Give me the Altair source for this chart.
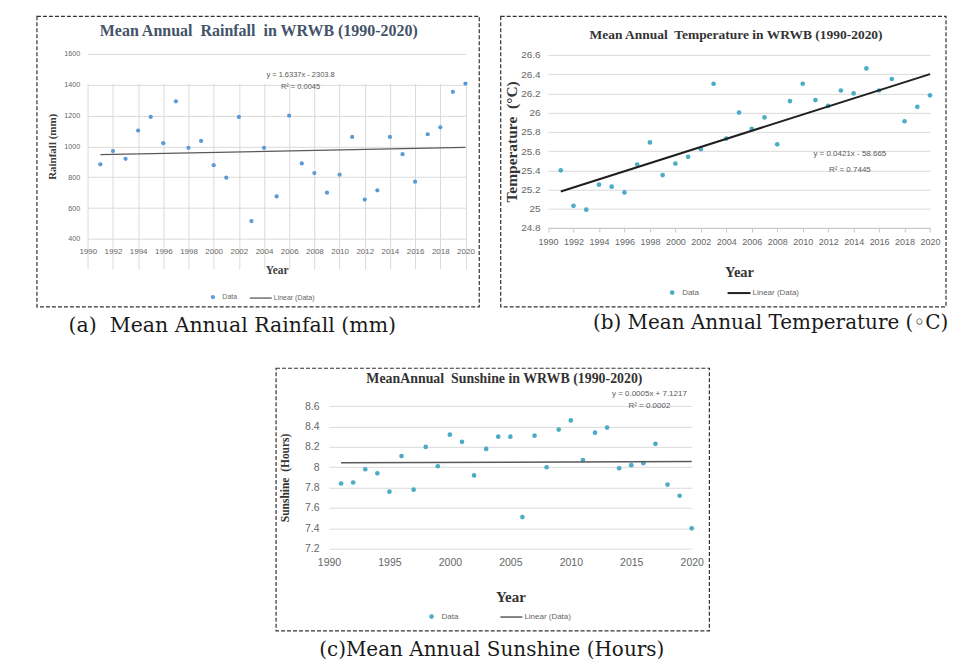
import altair as alt
import pandas as pd

years = list(range(1991, 2021))
rainfall = [883, 969, 919, 1102, 1190, 1020, 1291, 990, 1035, 878, 797, 1190, 516, 990, 675,
            1198, 889, 827, 700, 816, 1061, 655, 715, 1061, 949, 771, 1078, 1123, 1353, 1406]
temperature = [25.40, 25.03, 24.99, 25.25, 25.23, 25.17, 25.46, 25.69, 25.35, 25.47, 25.54, 25.62,
               26.30, 25.73, 26.00, 25.83, 25.95, 25.67, 26.12, 26.30, 26.13, 26.07, 26.23, 26.20,
               26.46, 26.23, 26.35, 25.91, 26.06, 26.18]
sunshine = [7.84, 7.85, 7.98, 7.94, 7.76, 8.11, 7.78, 8.20, 8.01, 8.32, 8.25, 7.92, 8.18, 8.30, 8.30,
            7.51, 8.31, 8.00, 8.37, 8.46, 8.07, 8.34, 8.39, 7.99, 8.02, 8.04, 8.23, 7.83, 7.72, 7.40]

trend_years = [1991, 2020]
rain_trend = [946, 993]
temp_trend = [25.18, 26.40]
sun_trend = [8.044, 8.057]

rain_eq = ["y = 1.6337x - 2303.8", "R\u00b2 = 0.0045"]
temp_eq = ["y = 0.0421x - 58.665", "R\u00b2 = 0.7445"]
sun_eq = ["y = 0.0005x + 7.1217", "R\u00b2 = 0.0002"]

LAB_FONT = "Liberation Sans Narrow, Liberation Sans, sans-serif"
SERIF = "Liberation Serif"
CAP_FONT = "DejaVu Serif"


def panel(cfg):
    xs = alt.Scale(domain=cfg["xdom"], range=cfg["xr"], nice=False, zero=False)
    ys = alt.Scale(domain=cfg["ydom"], range=cfg["yr"], nice=False, zero=False)
    W, H = cfg["W"], cfg["H"]

    xaxis = alt.Axis(
        values=cfg["xvals"], tickCount=100, format="d", grid=cfg["xgrid"], gridColor="#DADADA",
        domain=cfg["xdomain"], domainColor="#C8C8C8",
        ticks=cfg["xticks"], tickSize=4, tickColor="#C8C8C8",
        labelFont=LAB_FONT, labelFontSize=cfg["xlab"], labelColor="#666666",
        labelPadding=cfg["xlabpad"], labelOverlap=False, labelFlush=False,
        title="Year", titleFont=SERIF, titleFontWeight="bold",
        titleFontSize=cfg["xtitle_size"], titleColor=cfg["axtitle_color"],
        titlePadding=cfg["xtitlepad"],
        offset=cfg["xr_y"] - H,
    )
    yaxis = alt.Axis(
        values=cfg["yvals"], tickCount=100, format=cfg["yfmt"], grid=True, gridColor="#DADADA",
        domain=False, ticks=False,
        labelFont=LAB_FONT, labelFontSize=cfg["ylab"], labelColor="#666666",
        labelPadding=cfg["ylabpad"], labelOverlap=False, labelFlush=False,
        title=cfg["ytitle"], titleFont=SERIF, titleFontWeight="bold",
        titleFontSize=cfg["ytitle_size"], titleColor=cfg["axtitle_color"],
        titlePadding=cfg["ytitlepad"],
        offset=-cfg["xr"][0],
    )

    df = pd.DataFrame({"year": years, "value": cfg["values"], "series": "Data"})
    tdf = pd.DataFrame({"year": trend_years, "value": cfg["trend"], "series": "Linear (Data)"})
    edf = pd.DataFrame({"year": [cfg["eqx"]] * 2, "value": cfg["eqy"], "text": cfg["eq"]})
    cdf = pd.DataFrame({"text": [cfg["caption"]]})
    ttl = pd.DataFrame({"text": [cfg["title"]]})

    pts = alt.Chart(df).mark_circle(size=cfg["ptsize"], opacity=1).encode(
        x=alt.X("year:Q", scale=xs, axis=xaxis),
        y=alt.Y("value:Q", scale=ys, axis=yaxis),
        fill=alt.Fill("series:N",
                      scale=alt.Scale(domain=["Data"], range=[cfg["ptcolor"]]),
                      legend=alt.Legend(title=None, orient="none",
                                        legendX=cfg["leg1"][0], legendY=cfg["leg1"][1],
                                        symbolType="circle", symbolSize=cfg["ptsize"],
                                        labelFont=LAB_FONT, labelFontSize=cfg["legfs"],
                                        labelColor="#666666", labelOffset=6)),
    )
    line = alt.Chart(tdf).mark_line(strokeWidth=cfg["lw"]).encode(
        x=alt.X("year:Q", scale=xs),
        y=alt.Y("value:Q", scale=ys),
        stroke=alt.Stroke("series:N",
                          scale=alt.Scale(domain=["Linear (Data)"], range=[cfg["lcolor"]]),
                          legend=alt.Legend(title=None, orient="none",
                                            legendX=cfg["leg2"][0], legendY=cfg["leg2"][1],
                                            symbolType="stroke", symbolSize=cfg["legline"] ** 2,
                                            symbolStrokeWidth=cfg["lw"],
                                            labelFont=LAB_FONT, labelFontSize=cfg["legfs"],
                                            labelColor="#666666", labelOffset=1)),
    )
    eq = alt.Chart(edf).mark_text(font=LAB_FONT, fontSize=cfg["eqfs"], color="#595959",
                                  align="center", baseline="middle").encode(
        x=alt.X("year:Q", scale=xs),
        y=alt.Y("value:Q", scale=ys),
        text="text:N",
    )
    cap = alt.Chart(cdf).mark_text(font=CAP_FONT, fontSize=cfg["capfs"], color="#1a1a1a",
                                   align=cfg["capalign"], baseline="middle").encode(
        x=alt.value(cfg["capx"]), y=alt.value(cfg["capy"]), text="text:N",
    )
    title = alt.Chart(ttl).mark_text(font=SERIF, fontWeight="bold", fontSize=cfg["title_size"],
                                     color=cfg["title_color"], align="center",
                                     baseline="middle").encode(
        x=alt.value(W / 2 + cfg["title_dx"]), y=alt.value(cfg["title_y"]), text="text:N",
    )
    return alt.layer(pts, line, eq, cap, title).properties(
        width=W, height=H,
    ).resolve_scale(fill="independent", stroke="independent")


NB = "\u00a0"

A = dict(W=443, H=291, xdom=[1990, 2020], ydom=[400, 1600], xr=[51.2, 429.5], yr=[223.3, 37.7],
         xr_y=223.3, xvals=list(range(1990, 2021, 2)), yvals=list(range(400, 1601, 200)), yfmt="d",
         xgrid=True, xdomain=False, xticks=False, xlab=8, ylab=7.2, xlabpad=9, ylabpad=8,
         xtitle_size=11.5, xtitlepad=9, ytitle="Rainfall (mm)", ytitle_size=11, ytitlepad=6,
         axtitle_color="#404040", values=rainfall, trend=rain_trend, ptcolor="#5B9BD5",
         ptsize=18, lcolor="#595959", lw=1.3, leg1=[173, 278], leg2=[212.5, 270.5], legfs=7,
         legline=22, eq=rain_eq, eqx=2006.9, eqy=[1462, 1387], eqfs=7.5,
         caption="(a)" + NB + " Mean Annual Rainfall (mm)", capx=32, capy=310, capalign="left", capfs=20.5,
         title="Mean Annual" + NB + " Rainfall" + NB + " in WRWB (1990-2020)", title_size=16,
         title_color="#44546A", title_y=15, title_dx=1)

B = dict(W=446, H=291, xdom=[1990, 2020], ydom=[24.8, 26.6], xr=[47.7, 430.3], yr=[212.3, 39],
         xr_y=212.3, xvals=list(range(1990, 2021, 2)),
         yvals=[24.8, 25, 25.2, 25.4, 25.6, 25.8, 26, 26.2, 26.4, 26.6], yfmt="~g",
         xgrid=False, xdomain=True, xticks=True, xlab=9, ylab=10, xlabpad=6, ylabpad=8,
         xtitle_size=14.5, xtitlepad=19, ytitle="Temperature" + NB + " (\u00b0C)", ytitle_size=15.5,
         ytitlepad=1, axtitle_color="#333333", values=temperature, trend=temp_trend,
         ptcolor="#4BACC6", ptsize=22, lcolor="#1f1f1f", lw=2, leg1=[168, 273], leg2=[226.5, 265],
         legfs=8, legline=23, eq=temp_eq, eqx=2013.7, eqy=[25.569, 25.406], eqfs=8,
         caption="(b) Mean Annual Temperature (\u25e6C)", capx=448.5, capy=307.7, capalign="right",
         capfs=20, title="Mean Annual" + NB + " Temperature in WRWB (1990-2020)", title_size=13.5,
         title_color="#333333", title_y=19, title_dx=13)

C = dict(W=434, H=263, xdom=[1990, 2020], ydom=[7.2, 8.6], xr=[53.3, 416.6], yr=[181, 38.3],
         xr_y=181, xvals=list(range(1990, 2021, 5)), yvals=[7.2, 7.4, 7.6, 7.8, 8, 8.2, 8.4, 8.6],
         yfmt="~g", xgrid=False, xdomain=False, xticks=False, xlab=10.5, ylab=10.5, xlabpad=9,
         ylabpad=10, xtitle_size=15, xtitlepad=21, ytitle="Sunshine" + NB + " (Hours)",
         ytitle_size=11.5, ytitlepad=14, axtitle_color="#333333", values=sunshine, trend=sun_trend,
         ptcolor="#4BACC6", ptsize=22, lcolor="#595959", lw=1.5, leg1=[152, 245], leg2=[224, 237.5],
         legfs=8, legline=22, eq=sun_eq, eqx=2016.5, eqy=[8.718, 8.603], eqfs=8,
         caption="(c)Mean Annual Sunshine (Hours)", capx=216.3, capy=282.3, capalign="center",
         capfs=20, title="MeanAnnual" + NB + " Sunshine in WRWB (1990-2020)", title_size=13.9,
         title_color="#333333", title_y=11.3, title_dx=12)

top = alt.hconcat(panel(A), panel(B), spacing=19.5).resolve_scale(
    x="independent", y="independent", fill="independent", stroke="independent"
).resolve_legend(fill="independent", stroke="independent")

chart = alt.vconcat(top, panel(C), spacing=29.5, center=True).resolve_scale(
    x="independent", y="independent", fill="independent", stroke="independent"
).resolve_legend(fill="independent", stroke="independent").properties(
    padding={"left": 27.5, "top": 6.5, "right": 1, "bottom": 0},
    background="white",
).configure_view(stroke="#333333", strokeDash=[4, 2], strokeWidth=1.2)

chart.save("out.html", embed_options={"renderer": "svg", "actions": False})
